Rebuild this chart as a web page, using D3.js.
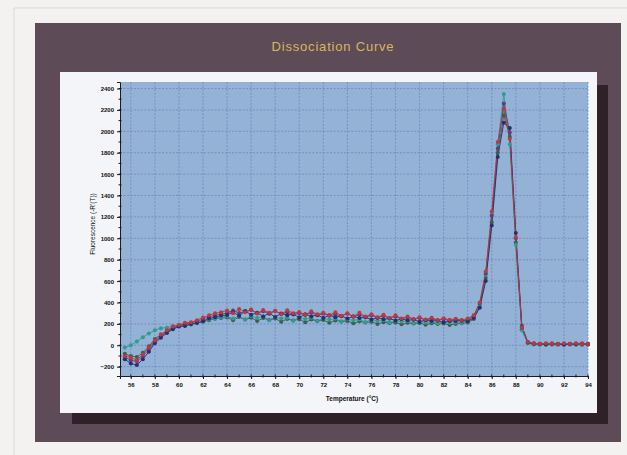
<!DOCTYPE html>
<html>
<head>
<meta charset="utf-8">
<script src="https://cdn.jsdelivr.net/npm/d3@7"></script>
<style>
  html, body { margin: 0; padding: 0; background: #f3f2f0; }
  svg { display: block; font-family: "Liberation Sans", Arial, sans-serif; }
</style>
</head>
<body>
<svg id="chart" width="627" height="455"></svg>
<script>
// Melt temperatures (°C), shared by every well
const temperatures = [55.5,56,56.5,57,57.5,58,58.5,59,59.5,60,60.5,61,61.5,62,62.5,63,63.5,64,64.5,65,
  65.5,66,66.5,67,67.5,68,68.5,69,69.5,70,70.5,71,71.5,72,72.5,73,73.5,74,74.5,75,
  75.5,76,76.5,77,77.5,78,78.5,79,79.5,80,80.5,81,81.5,82,82.5,83,83.5,84,84.5,85,
  85.5,86,86.5,87,87.5,88,88.5,89,89.5,90,90.5,91,91.5,92,92.5,93,93.5,94];

// Derivative fluorescence per well
const wellRed = [-100,-115,-140,-85,-20,45,100,140,175,190,210,215,235,260,280,300,310,
  325,300,340,310,335,298,330,305,322,290,328,300,312,285,318,290,305,280,310,276,300,270,305,268,
  290,262,285,255,280,250,270,245,262,240,258,236,252,238,248,236,250,
  280,400,690,1250,1900,2210,1930,1010,170,30,18,14,20,16,12,18,14,20,15,12];
const wellNavy = [-130,-170,-185,-130,-60,20,70,115,150,175,180,200,210,225,250,262,278,
  282,310,275,320,285,305,270,300,265,298,280,292,260,290,270,284,255,280,262,274,250,270,254,262,
  240,258,244,250,232,246,234,240,220,236,226,232,215,230,226,232,225,
  255,350,600,1120,1760,2080,2030,1050,180,28,16,14,10,16,12,8,14,12,16,10];
const wellTeal = [-20,0,35,75,110,140,160,165,180,190,190,200,210,225,240,250,262,
  268,250,272,240,275,255,270,235,262,250,258,230,262,245,258,225,254,238,250,220,246,232,242,215,
  240,228,236,212,232,220,228,208,224,214,220,205,218,210,214,208,222,
  260,380,660,1220,1880,2350,1880,940,140,20,8,6,10,8,6,10,8,6,10,8];
const wellGreen = [-80,-100,-110,-70,-10,60,100,135,160,180,185,195,205,222,235,248,255,
  260,235,264,240,258,226,254,236,250,220,246,232,244,215,240,228,236,210,232,222,228,205,224,214,
  220,200,216,208,214,196,210,204,208,192,206,200,204,190,200,206,212,
  245,360,630,1150,1800,2150,1950,960,150,22,10,8,6,10,8,6,10,8,6,8];
const wellPurple = [-110,-140,-150,-100,-40,35,85,125,160,185,200,210,225,245,265,280,292,
  300,325,302,315,330,300,318,296,320,292,310,288,300,284,305,280,296,276,290,272,295,268,285,262,
  280,258,276,252,270,246,262,242,256,236,250,232,246,230,242,230,240,
  270,390,670,1210,1840,2260,1990,1000,165,26,14,12,14,10,14,12,10,14,12,14];

const wells = [wellGreen, wellTeal, wellPurple, wellNavy, wellRed];
const wellColors = ["#3f5e4a", "#2f9c8e", "#5a3f86", "#27306a", "#c2363d"];

// Axis ticks
const xTicks = [56,58,60,62,64,66,68,70,72,74,76,78,80,82,84,86,88,90,92,94];
const yTicks = [-200,0,200,400,600,800,1000,1200,1400,1600,1800,2000,2200,2400];

const title = "Dissociation Curve";
const xTitle = "Temperature (°C)";
const yTitle = "Fluorescence (-R'(T))";

const svg = d3.select("#chart");

// Page frame
svg.append("rect").attr("width", 627).attr("height", 455).attr("fill", "#f3f2f0");
svg.append("path").attr("d", "M14,455V8H627").attr("fill", "none")
  .attr("stroke", "#dad9d7").attr("stroke-width", 1);

// Dark panel with title
svg.append("rect").attr("x", 35).attr("y", 23).attr("width", 586).attr("height", 419)
  .attr("fill", "#5d4b57");
svg.append("text").attr("x", 333).attr("y", 51).attr("text-anchor", "middle")
  .attr("font-size", 13).attr("letter-spacing", 0.8).attr("fill", "#d6b65e")
  .text(title);

// Card shadow and card
svg.append("rect").attr("x", 72).attr("y", 85).attr("width", 536).attr("height", 339)
  .attr("fill", "#2e2127");
svg.append("rect").attr("x", 60).attr("y", 72).attr("width", 537).attr("height", 341)
  .attr("fill", "#f4f5f8");

const plot = { left: 120, right: 588, top: 82, bottom: 376 };
const x = d3.scaleLinear().domain([55.1, 94]).range([plot.left, plot.right]);
const y = d3.scaleLinear().domain([-287, 2461]).range([plot.bottom, plot.top]);

svg.append("rect").attr("x", plot.left).attr("y", plot.top)
  .attr("width", plot.right - plot.left).attr("height", plot.bottom - plot.top)
  .attr("fill", "#94b1d6");

// Grid
const grid = svg.append("g").attr("class", "grid");
grid.selectAll("line.v").data(xTicks).join("line").attr("class", "v")
  .attr("x1", d => x(d)).attr("x2", d => x(d))
  .attr("y1", plot.top).attr("y2", plot.bottom);
grid.selectAll("line.h").data(yTicks).join("line").attr("class", "h")
  .attr("x1", plot.left).attr("x2", plot.right)
  .attr("y1", d => y(d)).attr("y2", d => y(d));
grid.selectAll("line").attr("stroke", "#6a8abb").attr("stroke-width", 0.9)
  .attr("stroke-dasharray", "2,1.5").attr("opacity", 0.85);

// Melt curves
const line = d3.line().x((d, i) => x(temperatures[i])).y(d => y(d));
const curves = svg.append("g");
wells.forEach((w, k) => {
  curves.append("path").datum(w).attr("d", line).attr("fill", "none")
    .attr("stroke", wellColors[k]).attr("stroke-width", 1).attr("opacity", 0.9);
});
wells.forEach((w, k) => {
  curves.append("g").selectAll("circle").data(w).join("circle")
    .attr("cx", (d, i) => x(temperatures[i])).attr("cy", d => y(d))
    .attr("r", 2).attr("fill", wellColors[k]);
});

// Axes
const yAxis = svg.append("g").attr("transform", `translate(${plot.left},0)`)
  .call(d3.axisLeft(y).tickValues(yTicks).tickSize(3).tickPadding(3).tickFormat(d3.format("d")));
const xAxis = svg.append("g").attr("transform", `translate(0,${plot.bottom})`)
  .call(d3.axisBottom(x).tickValues(xTicks).tickSize(3).tickPadding(4));
[xAxis, yAxis].forEach(a => {
  a.select(".domain").attr("stroke", "#1a1a2a").attr("stroke-width", 1);
  a.selectAll(".tick line").attr("stroke", "#1a1a2a");
  a.selectAll(".tick text").attr("font-size", 6).attr("font-weight", "bold").attr("fill", "#111");
});

// Minor ticks
const xMinor = d3.range(56, 94.1, 1);
svg.append("g").selectAll("line").data(xMinor).join("line")
  .attr("x1", d => x(d)).attr("x2", d => x(d))
  .attr("y1", plot.bottom - 1.5).attr("y2", plot.bottom + 1.5)
  .attr("stroke", "#1a1a2a");
const yMinor = d3.range(-200, 2401, 100);
svg.append("g").selectAll("line").data(yMinor).join("line")
  .attr("x1", plot.left - 1.5).attr("x2", plot.left + 1.5)
  .attr("y1", d => y(d)).attr("y2", d => y(d))
  .attr("stroke", "#1a1a2a");

// Axis titles
svg.append("text").attr("x", 352).attr("y", 401).attr("text-anchor", "middle")
  .attr("font-size", 6.5).attr("font-weight", "bold").attr("fill", "#111").text(xTitle);
svg.append("text").attr("transform", "translate(95,224) rotate(-90)")
  .attr("text-anchor", "middle").attr("font-size", 6.5).attr("fill", "#111").text(yTitle);
</script>
</body>
</html>
